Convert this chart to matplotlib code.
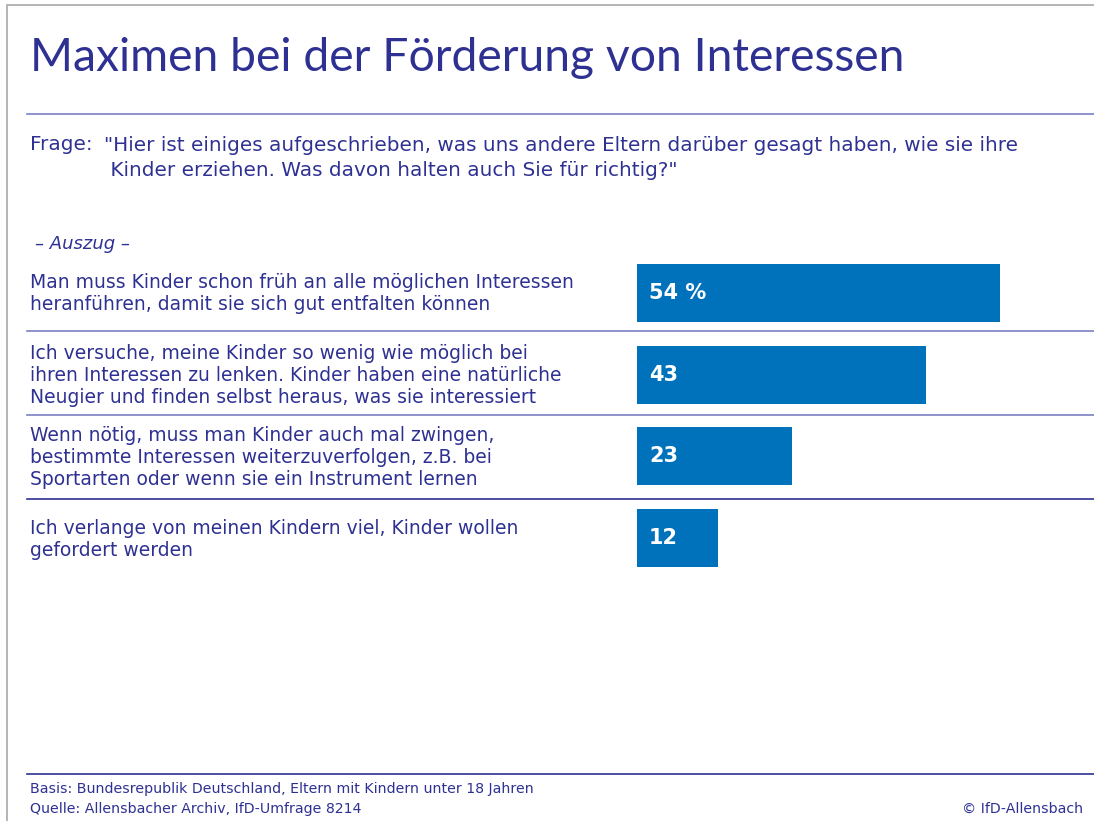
import matplotlib.pyplot as plt
from matplotlib.lines import Line2D
from matplotlib.patches import Rectangle

plt.rcParams['font.family'] = ['DejaVu Sans']

# data
statements = [
    "Man muss Kinder schon früh an alle möglichen Interessen\nheranführen, damit sie sich gut entfalten können",
    "Ich versuche, meine Kinder so wenig wie möglich bei\nihren Interessen zu lenken. Kinder haben eine natürliche\nNeugier und finden selbst heraus, was sie interessiert",
    "Wenn nötig, muss man Kinder auch mal zwingen,\nbestimmte Interessen weiterzuverfolgen, z.B. bei\nSportarten oder wenn sie ein Instrument lernen",
    "Ich verlange von meinen Kindern viel, Kinder wollen\ngefordert werden",
]
values = [54, 43, 23, 12]
value_labels = ["54 %", "43", "23", "12"]

title = "Maximen bei der Förderung von Interessen"
question_1 = "Frage:"
question_2 = "\"Hier ist einiges aufgeschrieben, was uns andere Eltern darüber gesagt haben, wie sie ihre\n Kinder erziehen. Was davon halten auch Sie für richtig?\""
note = "– Auszug –"
basis = "Basis: Bundesrepublik Deutschland, Eltern mit Kindern unter 18 Jahren"
source = "Quelle: Allensbacher Archiv, IfD-Umfrage 8214"
copyright = "© IfD-Allensbach"

W, H = 1094, 821
navy = '#2E3192'
line_col = '#7B7FC4'
bar_col = '#0071BB'

fig = plt.figure(figsize=(W / 100, H / 100), dpi=100)

def fx(x):
    return x / W

def fy(y):
    return 1 - y / H

# frame
fig.add_artist(Rectangle((fx(7), fy(H + 10)), fx(W + 10), (H + 5) / H,
                         transform=fig.transFigure, fill=False, edgecolor='#a8a8a8', lw=1.2))

fig.text(fx(30), fy(58), title, color=navy, fontsize=33.3, va='center', ha='left',
         family=['Lato', 'DejaVu Sans'])
fig.add_artist(Line2D([fx(27), 1], [fy(114), fy(114)], color=line_col, lw=1.2))

fig.text(fx(30), fy(145), question_1, color=navy, fontsize=14.4, va='center')
fig.text(fx(104), fy(158), question_2, color=navy, fontsize=14.4, va='center', linespacing=1.4)
fig.text(fx(35), fy(244), note, color=navy, fontsize=13, va='center', style='italic')

# bars
ax = fig.add_axes([fx(637), fy(579), fx(W - 637), (579 - 252) / H])
ax.barh(range(len(values)), values, height=0.71, color=bar_col, left=0)
ax.set_xlim(0, (W - 637) / 6.72)
ax.set_ylim(len(values) - 0.5, -0.5)
ax.axis('off')
for i, lab in enumerate(value_labels):
    ax.text(1.8, i, lab, color='white', fontsize=15, fontweight='bold', va='center', ha='left')

row_y = [293, 375, 457, 539]
for y, s in zip(row_y, statements):
    fig.text(fx(30), fy(y), s, color=navy, fontsize=13.5, va='center', linespacing=1.2)

for y, c in zip([331, 415, 499], [line_col, line_col, navy]):
    fig.add_artist(Line2D([fx(27), 1], [fy(y), fy(y)], color=c, lw=1.2))

fig.add_artist(Line2D([fx(27), 1], [fy(774), fy(774)], color=navy, lw=1.2))
fig.text(fx(30), fy(789), basis, color=navy, fontsize=10.2, va='center')
fig.text(fx(30), fy(809), source, color=navy, fontsize=10.2, va='center')
fig.text(fx(1083), fy(809), copyright, color=navy, fontsize=10.2, va='center', ha='right')

fig.savefig('out.png', dpi=100)
